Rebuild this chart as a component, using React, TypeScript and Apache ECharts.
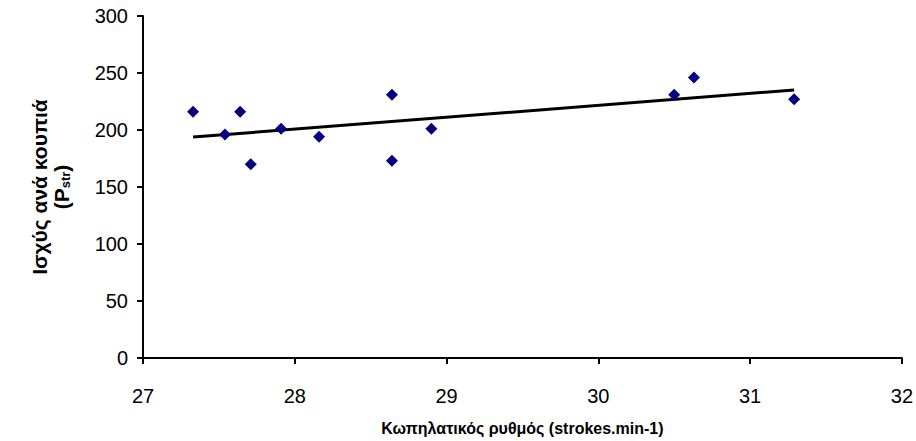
import React, { useEffect, useRef } from "react";
import * as echarts from "echarts";

const strokeRate: number[] = [27.33, 27.54, 27.64, 27.71, 27.91, 28.16, 28.64, 28.64, 28.9, 30.5, 30.63, 31.29];
const power: number[] = [216, 196, 216, 170, 201, 194, 231, 173, 201, 231, 246, 227];
const xTitle = "Κωπηλατικός ρυθμός (strokes.min-1)";
const yTitleLine1 = "Ισχύς ανά κουπιά";

function regression(xs: number[], ys: number[]) {
  const n = xs.length;
  const mx = xs.reduce((a, b) => a + b, 0) / n;
  const my = ys.reduce((a, b) => a + b, 0) / n;
  let sxy = 0, sxx = 0;
  for (let i = 0; i < n; i++) {
    sxy += (xs[i] - mx) * (ys[i] - my);
    sxx += (xs[i] - mx) ** 2;
  }
  const b = sxy / sxx;
  return { a: my - b * mx, b };
}

export default function App() {
  const ref = useRef<HTMLDivElement>(null);
  useEffect(() => {
    if (!ref.current) return;
    const chart = echarts.init(ref.current, undefined, { renderer: "svg" });
    const { a, b } = regression(strokeRate, power);
    const xMin = Math.min(...strokeRate);
    const xMax = Math.max(...strokeRate);
    const font = "Arial, 'Liberation Sans', sans-serif";
    chart.setOption({
      animation: false,
      backgroundColor: "#ffffff",
      grid: { left: 143, right: 11, top: 16, bottom: 82, containLabel: false },
      xAxis: {
        type: "value",
        min: 27,
        max: 32,
        interval: 1,
        name: xTitle,
        nameLocation: "middle",
        nameGap: 62,
        nameTextStyle: { fontFamily: font, fontSize: 16, fontWeight: "bold", color: "#000" },
        axisLine: { show: true, onZero: false, lineStyle: { color: "#000", width: 2 } },
        axisTick: { show: true, inside: false, length: 6, lineStyle: { color: "#000", width: 2 } },
        axisLabel: { fontFamily: font, fontSize: 20, color: "#000", margin: 28 },
        splitLine: { show: false },
      },
      yAxis: {
        type: "value",
        min: 0,
        max: 300,
        interval: 50,
        name: `{t|${yTitleLine1}}\n{t|(P}{s|str}{t|)}`,
        nameLocation: "middle",
        nameRotate: 90,
        nameGap: 71,
        nameTextStyle: {
          fontFamily: font,
          color: "#000",
          rich: {
            t: { fontFamily: font, fontSize: 21, fontWeight: "bold", color: "#000", lineHeight: 22 },
            s: { fontFamily: font, fontSize: 13, fontWeight: "bold", color: "#000", lineHeight: 22, padding: [9, 0, 0, 0] },
          },
        },
        axisLine: { show: true, lineStyle: { color: "#000", width: 2 } },
        axisTick: { show: true, inside: false, length: 6, lineStyle: { color: "#000", width: 2 } },
        axisLabel: { fontFamily: font, fontSize: 20, color: "#000", margin: 15 },
        splitLine: { show: false },
      },
      series: [
        {
          type: "line",
          data: [
            [xMin, a + b * xMin],
            [xMax, a + b * xMax],
          ],
          showSymbol: false,
          symbol: "none",
          lineStyle: { color: "#000", width: 3 },
          silent: true,
          z: 2,
        },
        {
          type: "scatter",
          data: strokeRate.map((x, i) => [x, power[i]]),
          symbol: "diamond",
          symbolSize: 12,
          itemStyle: { color: "#000080", opacity: 1 },
          z: 3,
        },
      ],
    });
    return () => chart.dispose();
  }, []);
  return <div ref={ref} style={{ width: 916, height: 441, position: "absolute", left: 0, top: 0 }} />;
}
